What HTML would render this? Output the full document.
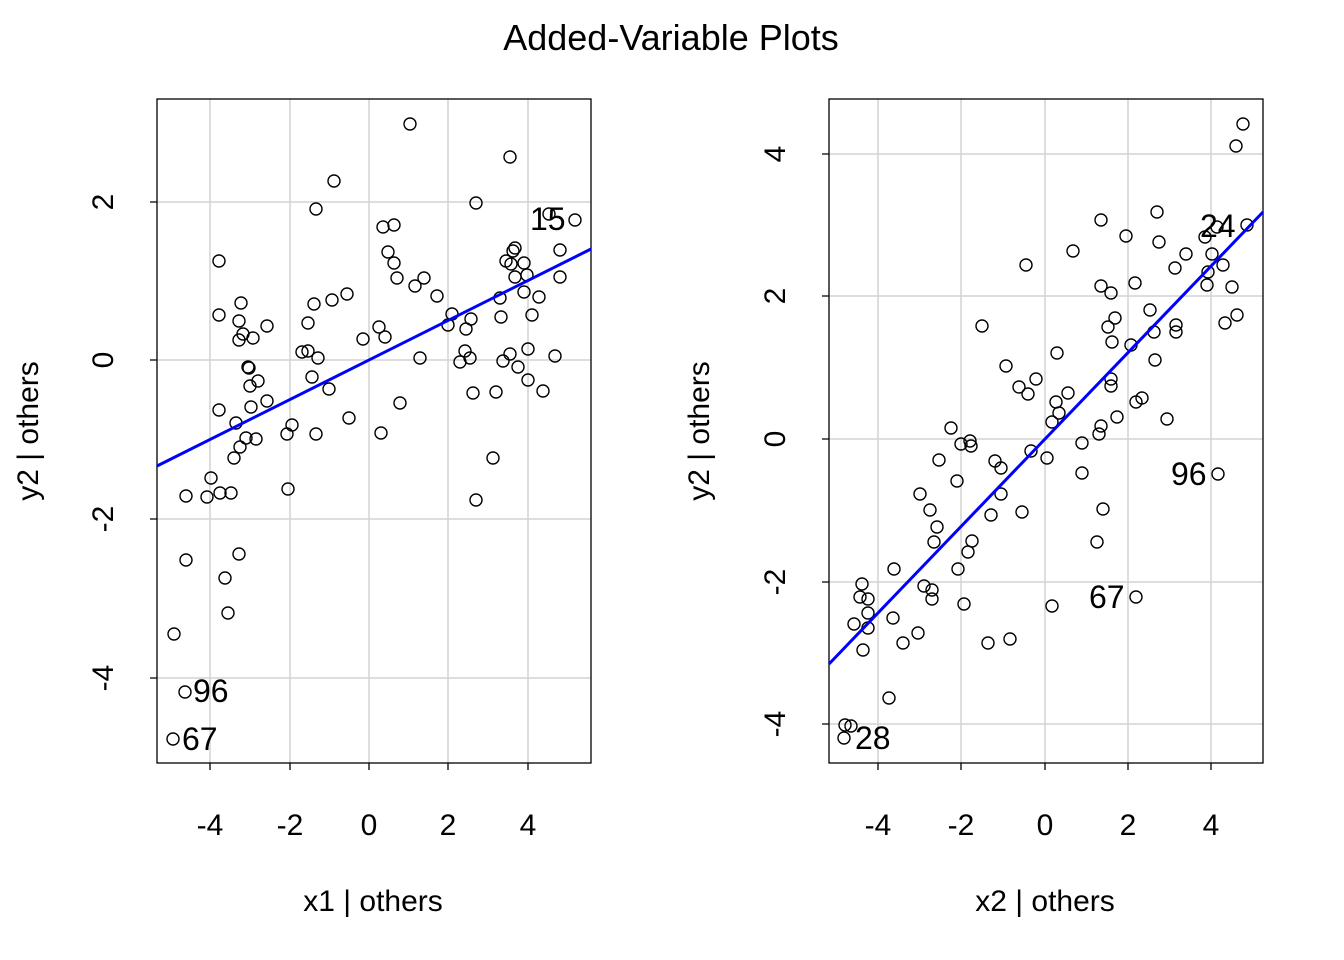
<!DOCTYPE html>
<html><head><meta charset="utf-8"><style>html,body{margin:0;padding:0;background:#fff}svg{display:block}text{font-family:"Liberation Sans",Arial,sans-serif;fill:#000}</style></head>
<body>
<svg width="1344" height="960" viewBox="0 0 1344 960" xmlns="http://www.w3.org/2000/svg">
<rect width="1344" height="960" fill="#fff"/>
<text x="671" y="50" font-size="36" text-anchor="middle">Added-Variable Plots</text>
<g stroke="#d3d3d3" stroke-width="1.5">
<line x1="210" y1="99" x2="210" y2="763"/><line x1="290" y1="99" x2="290" y2="763"/><line x1="369" y1="99" x2="369" y2="763"/><line x1="448" y1="99" x2="448" y2="763"/><line x1="528" y1="99" x2="528" y2="763"/>
<line x1="157" y1="202" x2="591" y2="202"/><line x1="157" y1="360" x2="591" y2="360"/><line x1="157" y1="519" x2="591" y2="519"/><line x1="157" y1="678" x2="591" y2="678"/>
<line x1="878" y1="99" x2="878" y2="763"/><line x1="961" y1="99" x2="961" y2="763"/><line x1="1045" y1="99" x2="1045" y2="763"/><line x1="1128" y1="99" x2="1128" y2="763"/><line x1="1211" y1="99" x2="1211" y2="763"/>
<line x1="829" y1="154" x2="1263" y2="154"/><line x1="829" y1="296" x2="1263" y2="296"/><line x1="829" y1="439" x2="1263" y2="439"/><line x1="829" y1="582" x2="1263" y2="582"/><line x1="829" y1="724" x2="1263" y2="724"/>
</g>
<g fill="none" stroke="#000" stroke-width="1.3">
<rect x="157" y="99" width="434" height="664"/>
<rect x="829" y="99" width="434" height="664"/>
<path d="M210 763v7M290 763v7M369 763v7M448 763v7M528 763v7M157 202h-7M157 360h-7M157 519h-7M157 678h-7"/>
<path d="M878 763v7M961 763v7M1045 763v7M1128 763v7M1211 763v7M829 154h-7M829 296h-7M829 439h-7M829 582h-7M829 724h-7"/>
</g>
<g font-size="30" text-anchor="middle">
<text x="210" y="835">-4</text><text x="290" y="835">-2</text><text x="369" y="835">0</text><text x="448" y="835">2</text><text x="528" y="835">4</text>
<text x="878" y="835">-4</text><text x="961" y="835">-2</text><text x="1045" y="835">0</text><text x="1128" y="835">2</text><text x="1211" y="835">4</text>
<text transform="translate(113 202) rotate(-90)">2</text><text transform="translate(113 360) rotate(-90)">0</text><text transform="translate(113 519) rotate(-90)">-2</text><text transform="translate(113 678) rotate(-90)">-4</text>
<text transform="translate(785 154) rotate(-90)">4</text><text transform="translate(785 296) rotate(-90)">2</text><text transform="translate(785 439) rotate(-90)">0</text><text transform="translate(785 582) rotate(-90)">-2</text><text transform="translate(785 724) rotate(-90)">-4</text>
<text x="373" y="911">x1 | others</text><text x="1045" y="911">x2 | others</text>
<text transform="translate(38 431) rotate(-90)">y2  | others</text><text transform="translate(709 431) rotate(-90)">y2  | others</text>
</g>
<g fill="none" stroke="#000" stroke-width="1.4">
<circle cx="410" cy="124" r="6"/><circle cx="510" cy="157" r="6"/><circle cx="334" cy="181" r="6"/><circle cx="316" cy="209" r="6"/><circle cx="476" cy="203" r="6"/><circle cx="549" cy="214" r="6"/><circle cx="575" cy="220" r="6"/><circle cx="383" cy="227" r="6"/><circle cx="394" cy="225" r="6"/><circle cx="219" cy="261" r="6"/><circle cx="388" cy="252" r="6"/><circle cx="394" cy="263" r="6"/><circle cx="397" cy="278" r="6"/><circle cx="424" cy="278" r="6"/><circle cx="415" cy="286" r="6"/><circle cx="437" cy="296" r="6"/><circle cx="560" cy="250" r="6"/><circle cx="515" cy="248" r="6"/><circle cx="513" cy="251" r="6"/><circle cx="506" cy="261" r="6"/><circle cx="511" cy="264" r="6"/><circle cx="524" cy="263" r="6"/><circle cx="527" cy="275" r="6"/><circle cx="515" cy="277" r="6"/><circle cx="524" cy="292" r="6"/><circle cx="539" cy="297" r="6"/><circle cx="560" cy="277" r="6"/><circle cx="500" cy="298" r="6"/><circle cx="501" cy="317" r="6"/><circle cx="532" cy="315" r="6"/><circle cx="452" cy="314" r="6"/><circle cx="448" cy="325" r="6"/><circle cx="471" cy="319" r="6"/><circle cx="466" cy="329" r="6"/><circle cx="241" cy="303" r="6"/><circle cx="219" cy="315" r="6"/><circle cx="239" cy="321" r="6"/><circle cx="267" cy="326" r="6"/><circle cx="243" cy="334" r="6"/><circle cx="239" cy="340" r="6"/><circle cx="253" cy="338" r="6"/><circle cx="314" cy="304" r="6"/><circle cx="332" cy="300" r="6"/><circle cx="347" cy="294" r="6"/><circle cx="308" cy="323" r="6"/><circle cx="379" cy="327" r="6"/><circle cx="385" cy="337" r="6"/><circle cx="363" cy="339" r="6"/><circle cx="302" cy="352" r="6"/><circle cx="308" cy="351" r="6"/><circle cx="318" cy="358" r="6"/><circle cx="420" cy="358" r="6"/><circle cx="465" cy="351" r="6"/><circle cx="460" cy="362" r="6"/><circle cx="470" cy="358" r="6"/><circle cx="503" cy="361" r="6"/><circle cx="510" cy="354" r="6"/><circle cx="528" cy="349" r="6"/><circle cx="518" cy="367" r="6"/><circle cx="555" cy="356" r="6"/><circle cx="528" cy="380" r="6"/><circle cx="543" cy="391" r="6"/><circle cx="473" cy="393" r="6"/><circle cx="496" cy="392" r="6"/><circle cx="248" cy="367" r="6"/><circle cx="249" cy="368" r="6"/><circle cx="258" cy="381" r="6"/><circle cx="250" cy="386" r="6"/><circle cx="312" cy="377" r="6"/><circle cx="329" cy="389" r="6"/><circle cx="267" cy="401" r="6"/><circle cx="219" cy="410" r="6"/><circle cx="251" cy="407" r="6"/><circle cx="400" cy="403" r="6"/><circle cx="236" cy="423" r="6"/><circle cx="349" cy="418" r="6"/><circle cx="292" cy="425" r="6"/><circle cx="287" cy="434" r="6"/><circle cx="316" cy="434" r="6"/><circle cx="381" cy="433" r="6"/><circle cx="246" cy="438" r="6"/><circle cx="256" cy="439" r="6"/><circle cx="240" cy="447" r="6"/><circle cx="234" cy="458" r="6"/><circle cx="493" cy="458" r="6"/><circle cx="211" cy="478" r="6"/><circle cx="186" cy="496" r="6"/><circle cx="207" cy="497" r="6"/><circle cx="220" cy="493" r="6"/><circle cx="231" cy="493" r="6"/><circle cx="288" cy="489" r="6"/><circle cx="476" cy="500" r="6"/><circle cx="186" cy="560" r="6"/><circle cx="239" cy="554" r="6"/><circle cx="225" cy="578" r="6"/><circle cx="228" cy="613" r="6"/><circle cx="174" cy="634" r="6"/><circle cx="185" cy="692" r="6"/><circle cx="173" cy="739" r="6"/>
<circle cx="1243" cy="124" r="6"/><circle cx="1236" cy="146" r="6"/><circle cx="1157" cy="212" r="6"/><circle cx="1101" cy="220" r="6"/><circle cx="1126" cy="236" r="6"/><circle cx="1159" cy="242" r="6"/><circle cx="1205" cy="237" r="6"/><circle cx="1217" cy="227" r="6"/><circle cx="1247" cy="225" r="6"/><circle cx="1073" cy="251" r="6"/><circle cx="1186" cy="254" r="6"/><circle cx="1212" cy="254" r="6"/><circle cx="1175" cy="268" r="6"/><circle cx="1223" cy="265" r="6"/><circle cx="1026" cy="265" r="6"/><circle cx="1208" cy="272" r="6"/><circle cx="1207" cy="285" r="6"/><circle cx="1232" cy="287" r="6"/><circle cx="1101" cy="286" r="6"/><circle cx="1111" cy="293" r="6"/><circle cx="1135" cy="283" r="6"/><circle cx="1150" cy="310" r="6"/><circle cx="1237" cy="315" r="6"/><circle cx="1225" cy="323" r="6"/><circle cx="982" cy="326" r="6"/><circle cx="1115" cy="318" r="6"/><circle cx="1108" cy="327" r="6"/><circle cx="1154" cy="332" r="6"/><circle cx="1176" cy="325" r="6"/><circle cx="1176" cy="332" r="6"/><circle cx="1112" cy="342" r="6"/><circle cx="1131" cy="345" r="6"/><circle cx="1057" cy="353" r="6"/><circle cx="1155" cy="360" r="6"/><circle cx="1006" cy="366" r="6"/><circle cx="1036" cy="379" r="6"/><circle cx="1019" cy="387" r="6"/><circle cx="1028" cy="394" r="6"/><circle cx="1111" cy="379" r="6"/><circle cx="1111" cy="386" r="6"/><circle cx="1068" cy="393" r="6"/><circle cx="1056" cy="402" r="6"/><circle cx="1059" cy="413" r="6"/><circle cx="1052" cy="422" r="6"/><circle cx="1142" cy="398" r="6"/><circle cx="1136" cy="402" r="6"/><circle cx="1117" cy="417" r="6"/><circle cx="1167" cy="419" r="6"/><circle cx="951" cy="428" r="6"/><circle cx="1101" cy="426" r="6"/><circle cx="1099" cy="434" r="6"/><circle cx="970" cy="441" r="6"/><circle cx="961" cy="444" r="6"/><circle cx="971" cy="446" r="6"/><circle cx="1082" cy="443" r="6"/><circle cx="1031" cy="451" r="6"/><circle cx="1047" cy="458" r="6"/><circle cx="939" cy="460" r="6"/><circle cx="995" cy="461" r="6"/><circle cx="1001" cy="468" r="6"/><circle cx="1082" cy="473" r="6"/><circle cx="957" cy="481" r="6"/><circle cx="1218" cy="474" r="6"/><circle cx="920" cy="494" r="6"/><circle cx="1001" cy="494" r="6"/><circle cx="930" cy="510" r="6"/><circle cx="991" cy="515" r="6"/><circle cx="1022" cy="512" r="6"/><circle cx="1103" cy="509" r="6"/><circle cx="937" cy="527" r="6"/><circle cx="934" cy="542" r="6"/><circle cx="972" cy="541" r="6"/><circle cx="968" cy="552" r="6"/><circle cx="1097" cy="542" r="6"/><circle cx="894" cy="569" r="6"/><circle cx="958" cy="569" r="6"/><circle cx="862" cy="584" r="6"/><circle cx="860" cy="597" r="6"/><circle cx="868" cy="599" r="6"/><circle cx="924" cy="586" r="6"/><circle cx="932" cy="590" r="6"/><circle cx="932" cy="599" r="6"/><circle cx="964" cy="604" r="6"/><circle cx="1052" cy="606" r="6"/><circle cx="1136" cy="597" r="6"/><circle cx="868" cy="613" r="6"/><circle cx="893" cy="618" r="6"/><circle cx="854" cy="624" r="6"/><circle cx="868" cy="628" r="6"/><circle cx="918" cy="633" r="6"/><circle cx="903" cy="643" r="6"/><circle cx="988" cy="643" r="6"/><circle cx="1010" cy="639" r="6"/><circle cx="863" cy="650" r="6"/><circle cx="889" cy="698" r="6"/><circle cx="845" cy="725" r="6"/><circle cx="851" cy="726" r="6"/><circle cx="844" cy="738" r="6"/>
</g>
<line x1="157" y1="466" x2="591" y2="249" stroke="#0000ff" stroke-width="3"/>
<line x1="829" y1="664" x2="1263" y2="212" stroke="#0000ff" stroke-width="3"/>
<g font-size="32">
<text x="530" y="230">15</text><text x="193" y="702">96</text><text x="182" y="750">67</text>
<text x="1200" y="237">24</text><text x="1171" y="485">96</text><text x="1089" y="608">67</text><text x="855" y="749">28</text>
</g>
</svg>
</body></html>
